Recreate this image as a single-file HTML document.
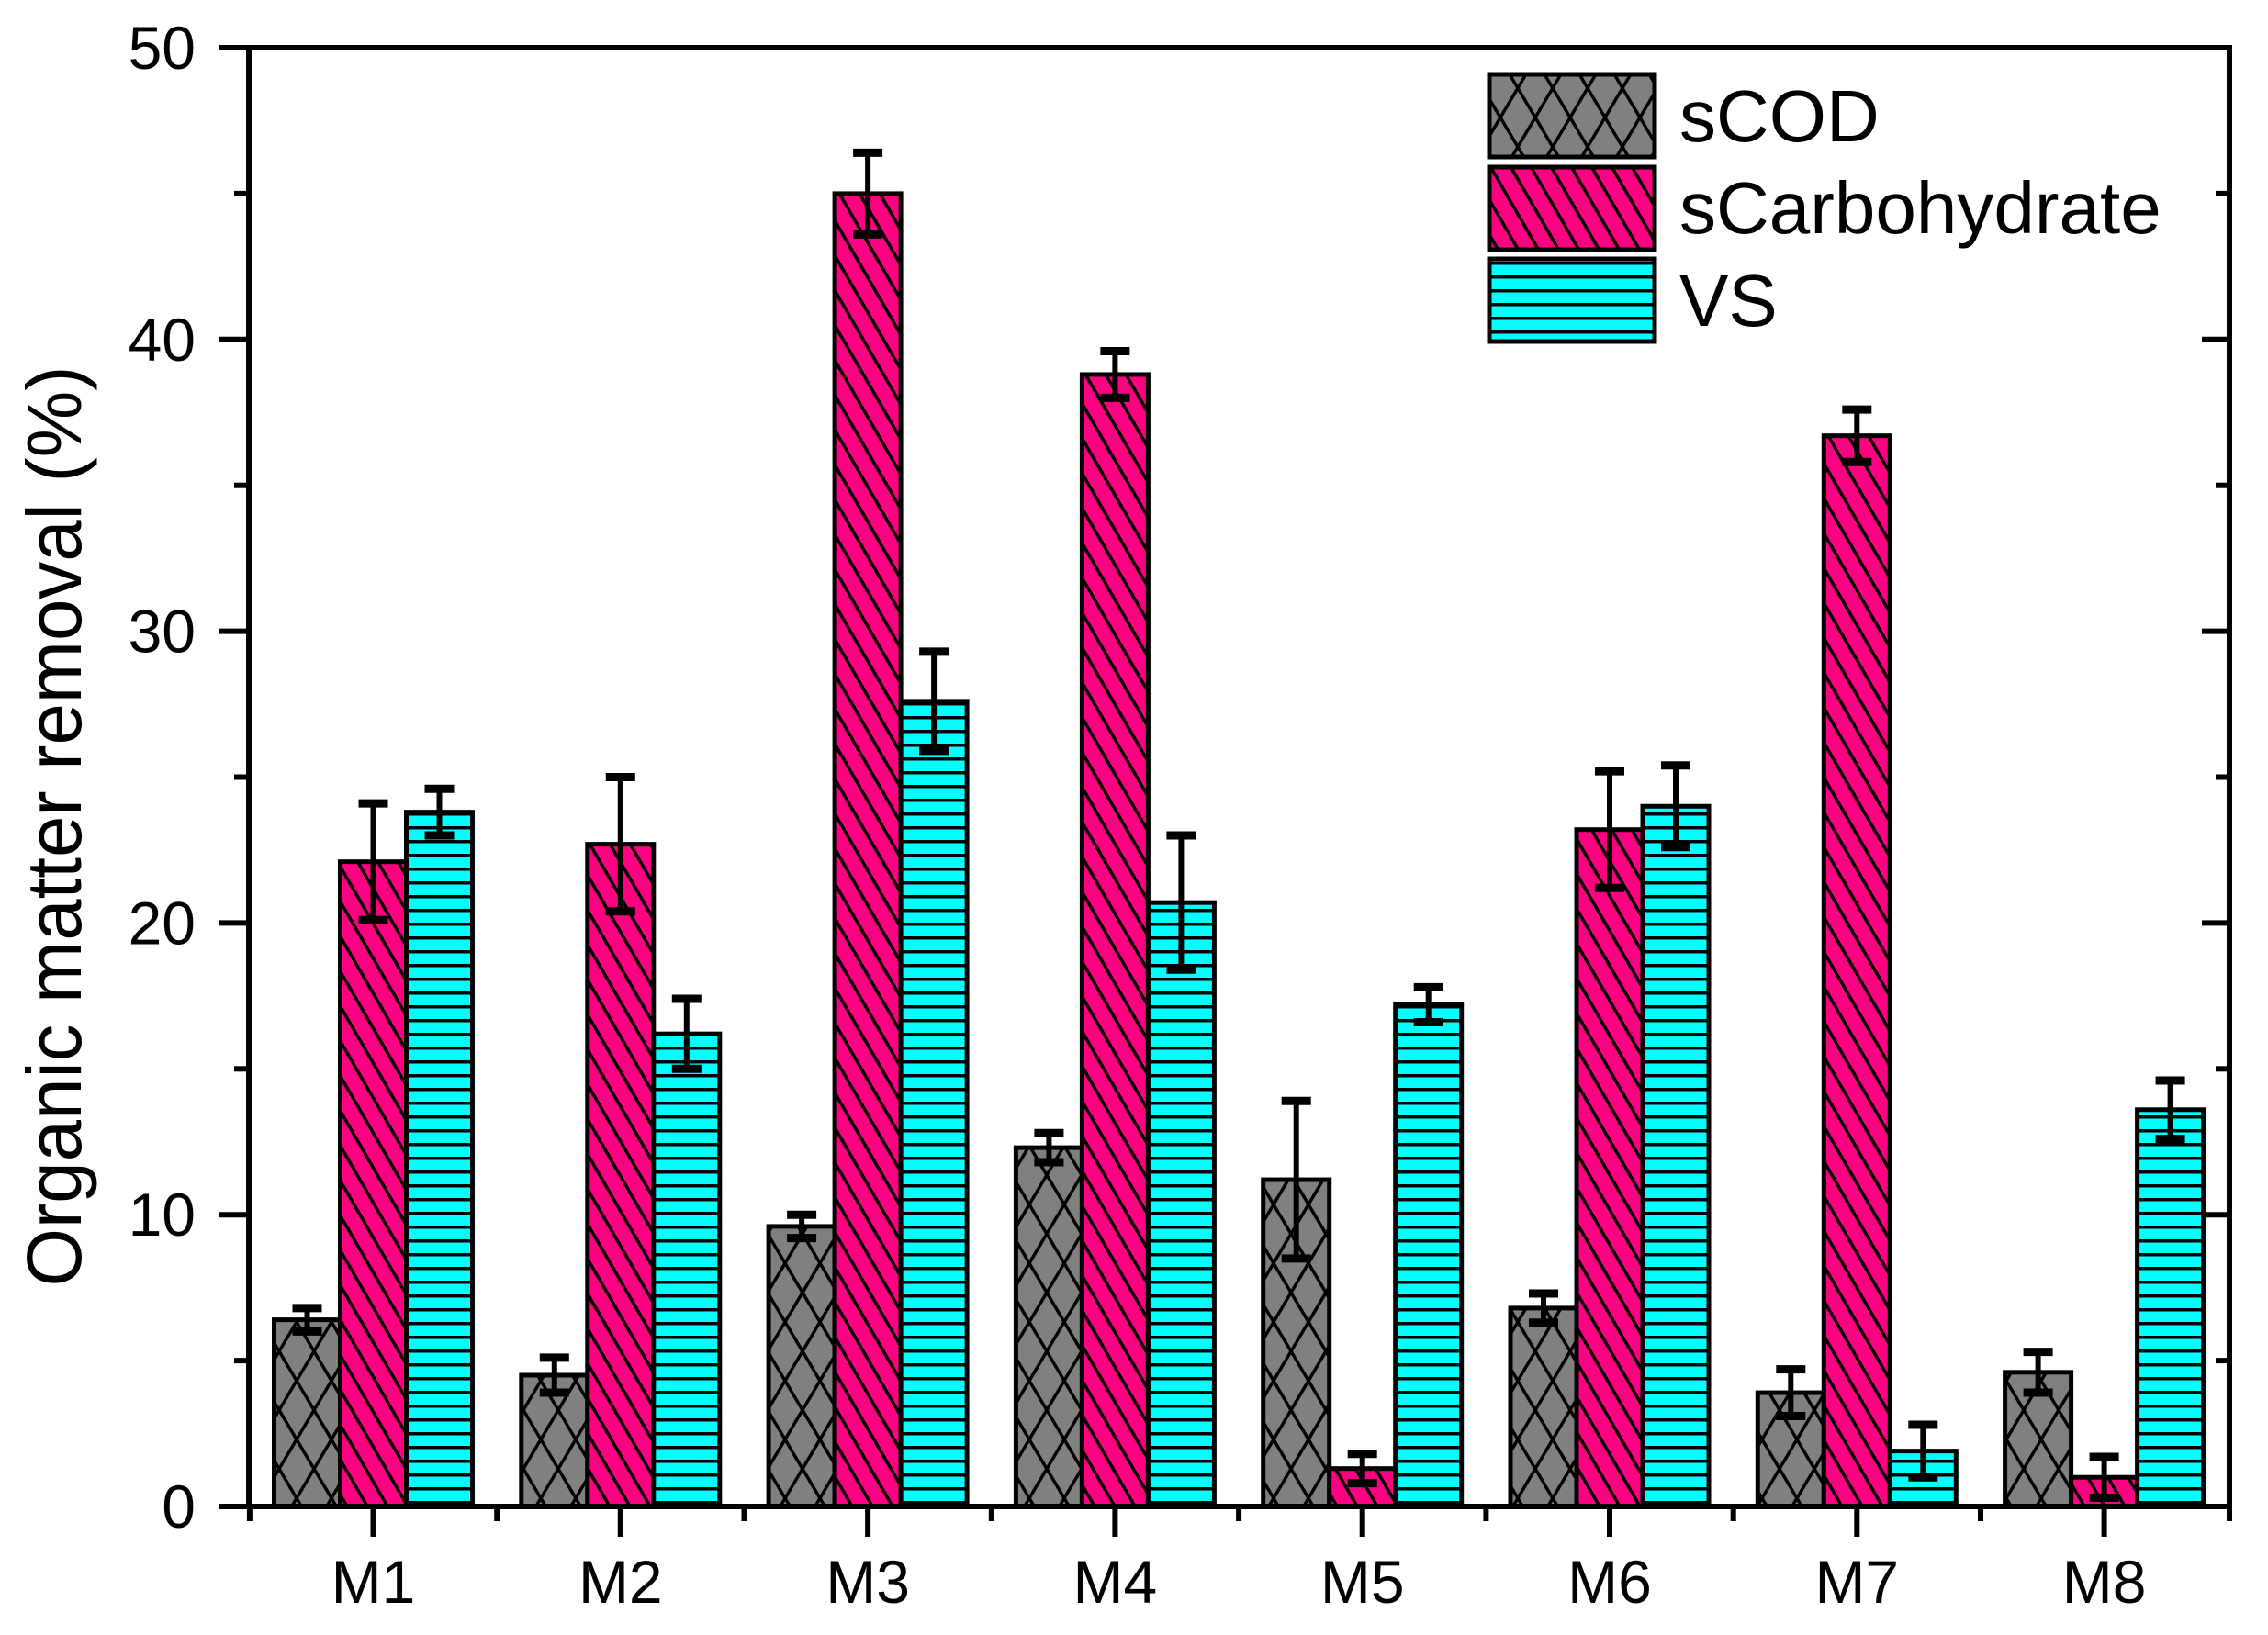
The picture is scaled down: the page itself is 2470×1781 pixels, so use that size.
<!DOCTYPE html>
<html><head><meta charset="utf-8"><style>
html,body{margin:0;padding:0;background:#fff;}
svg{display:block;font-family:"Liberation Sans",Arial,sans-serif;}
</style></head><body>
<svg id="chart" width="2470" height="1781" viewBox="0 0 2470 1781" xmlns="http://www.w3.org/2000/svg">
<defs>
<pattern id="pCross" patternUnits="userSpaceOnUse" width="38" height="64">
<rect width="38" height="64" fill="#808080"/>
<path d="M0,0 L38,64 M38,0 L0,64 M-19,32 L0,64 M0,0 L-19,32" stroke="#000" stroke-width="3.5" fill="none"/>
<path d="M38,0 L57,32 M57,32 L38,64" stroke="#000" stroke-width="3.5"/>
</pattern>
<pattern id="pDiag" patternUnits="userSpaceOnUse" width="22" height="38">
<rect width="22" height="38" fill="#ff0080"/>
<path d="M-11,-19 L33,57 M-22,0 L22,76 M0,-38 L44,38" stroke="#000" stroke-width="3.5"/>
</pattern>
<pattern id="pHoriz" patternUnits="userSpaceOnUse" width="20" height="15">
<rect width="20" height="15" fill="#00ffff"/>
<rect y="0" width="20" height="3.5" fill="#000"/>
</pattern>
</defs>
<g id="plot"></g>
</svg>
<script>
const categories = ["M1","M2","M3","M4","M5","M6","M7","M8"];
const seriesNames = ["sCOD","sCarbohydrate","VS"];
const sCOD = [6.4, 4.5, 9.6, 12.3, 11.2, 6.8, 3.9, 4.6];
const sCODErr = [0.4, 0.6, 0.4, 0.5, 2.7, 0.5, 0.8, 0.7];
const sCarb = [22.1, 22.7, 45.0, 38.8, 1.3, 23.2, 36.7, 1.0];
const sCarbErr = [2.0, 2.3, 1.4, 0.8, 0.5, 2.0, 0.9, 0.7];
const vs = [23.8, 16.2, 27.6, 20.7, 17.2, 24.0, 1.9, 13.6];
const vsErr = [0.8, 1.2, 1.7, 2.3, 0.6, 1.4, 0.9, 1.0];
const yTicks = [0, 10, 20, 30, 40, 50];

const NS = "http://www.w3.org/2000/svg";
const g = document.getElementById("plot");
const X0 = 271, X1 = 2428, Y0 = 1641, Y1 = 52;
const yMin = 0, yMax = 50;
const y = v => Y0 - (v - yMin) / (yMax - yMin) * (Y0 - Y1);
const groupW = (X1 - X0) / 8.0;
const xc = i => 406.5 + i * 269.3;
const barW = 72;
function el(tag, attrs, parent) {
  const e = document.createElementNS(NS, tag);
  for (const k in attrs) e.setAttribute(k, attrs[k]);
  (parent || g).appendChild(e);
  return e;
}
const series = [
  {vals: sCOD, errs: sCODErr, fill: "url(#pCross)", key: "scod"},
  {vals: sCarb, errs: sCarbErr, fill: "url(#pDiag)", key: "scarbohydrate"},
  {vals: vs, errs: vsErr, fill: "url(#pHoriz)", key: "vs"}
];
// bars
categories.forEach((c, i) => {
  series.forEach((s, j) => {
    const x = xc(i) - 1.5 * barW + j * barW;
    const top = y(s.vals[i]);
    const r = el("rect", {x: x, y: top, width: barW, height: Y0 - top, fill: s.fill, stroke: "#000", "stroke-width": 5});
    
    
  });
});
// error bars
categories.forEach((c, i) => {
  series.forEach((s, j) => {
    const cx = xc(i) - barW + j * barW;
    const hi = y(s.vals[i] + s.errs[i]), lo = y(Math.max(0, s.vals[i] - s.errs[i]));
    const eg = el("g", {stroke: "#000", "stroke-width": 6});
    
    
    el("line", {x1: cx, y1: hi, x2: cx, y2: lo}, eg);
    el("line", {x1: cx - 16, y1: hi, x2: cx + 16, y2: hi, "stroke-width": 9}, eg);
    el("line", {x1: cx - 16, y1: lo, x2: cx + 16, y2: lo, "stroke-width": 9}, eg);
  });
});
// axes frame
const frame = el("rect", {x: X0, y: Y1, width: X1 - X0, height: Y0 - Y1, fill: "none", stroke: "#000", "stroke-width": 6});


// y ticks
yTicks.forEach(v => {
  const yy = y(v);
  el("line", {x1: X0 - 32, y1: yy, x2: X0, y2: yy, stroke: "#000", "stroke-width": 6});
  el("line", {x1: X1 - 30, y1: yy, x2: X1, y2: yy, stroke: "#000", "stroke-width": 6});
  const t = el("text", {x: 213, y: yy + 23, "font-size": 66, "text-anchor": "end", fill: "#000"});
  t.textContent = v;
  
  
  if (v < 50) {
    const m = yy - (Y0 - Y1) / 10;
    el("line", {x1: X0 - 16, y1: m, x2: X0, y2: m, stroke: "#000", "stroke-width": 6});
    el("line", {x1: X1 - 15, y1: m, x2: X1, y2: m, stroke: "#000", "stroke-width": 6});
  }
});
// x ticks
categories.forEach((c, i) => {
  el("line", {x1: xc(i), y1: Y0, x2: xc(i), y2: Y0 + 33, stroke: "#000", "stroke-width": 6});
  const b = xc(i) - 134.6;
  el("line", {x1: b, y1: Y0, x2: b, y2: Y0 + 16, stroke: "#000", "stroke-width": 6});
  const t = el("text", {x: xc(i), y: 1746, "font-size": 66, "text-anchor": "middle", fill: "#000"});
  t.textContent = c;
  
  
});
el("line", {x1: X1, y1: Y0, x2: X1, y2: Y0 + 16, stroke: "#000", "stroke-width": 6});
// y title
const yt = el("text", {x: 0, y: 0, "font-size": 84, "text-anchor": "middle", fill: "#000", transform: "translate(88,900) rotate(-90)", textLength: 1003, lengthAdjust: "spacingAndGlyphs"});
yt.textContent = "Organic matter removal (%)";


// legend
const lg = el("g", {});


const legY = [81, 182, 282];
const legBase = [154, 254, 355];
series.forEach((s, j) => {
  const eg = el("g", {}, lg);
  
  
  el("rect", {x: 1622, y: legY[j], width: 180, height: 90, fill: s.fill, stroke: "#000", "stroke-width": 5}, eg);
  const t = el("text", {x: 1829, y: legBase[j], "font-size": 80, fill: "#000"}, eg);
  t.textContent = seriesNames[j];
});
</script>
</body></html>
